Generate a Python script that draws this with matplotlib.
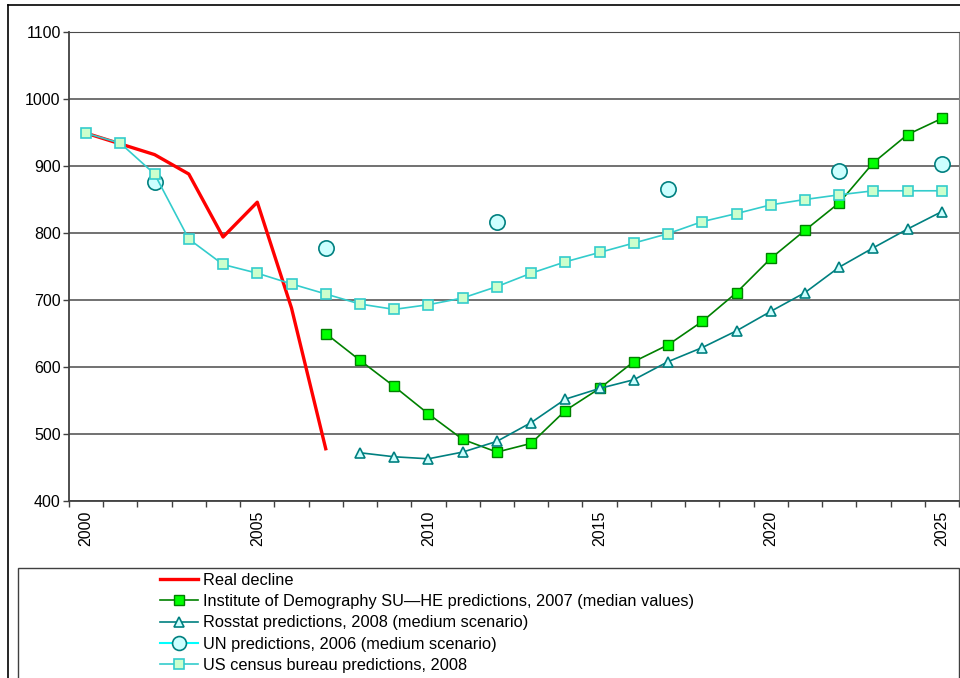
import matplotlib.pyplot as plt
import numpy as np
from matplotlib.lines import Line2D
from matplotlib.patches import Rectangle

plt.rcParams['font.family'] = ['Liberation Sans', 'DejaVu Sans']

# data
real_years = list(range(2000, 2008))
real_vals = [949, 933, 917, 888, 794, 846, 688, 478]

inst_years = list(range(2007, 2026))
inst_vals = [650, 610, 571, 530, 492, 473, 486, 535, 568, 608, 633, 668, 711,
             762, 804, 845, 905, 947, 971]

rosstat_years = list(range(2008, 2026))
rosstat_vals = [472, 466, 463, 473, 489, 517, 552, 568, 581, 608, 629, 654,
                683, 711, 749, 778, 806, 832]

un_years = [2002, 2007, 2012, 2017, 2022, 2025]
un_vals = [876, 778, 817, 866, 892, 903]

census_years = list(range(2000, 2026))
census_vals = [949, 934, 888, 791, 753, 740, 724, 709, 694, 686, 693, 703, 720,
               740, 757, 771, 785, 799, 817, 829, 842, 850, 857, 863, 863, 863]

labels = ["Real decline",
          "Institute of Demography SU\u2014HE predictions, 2007 (median values)",
          "Rosstat predictions, 2008 (medium scenario)",
          "UN predictions, 2006 (medium scenario)",
          "US census bureau predictions, 2008"]

W, H = 960, 678
fig = plt.figure(figsize=(W / 100, H / 100), dpi=100)
ax = fig.add_axes([69 / W, 1 - 501 / H, 890 / W, 469 / H])

h_real, = ax.plot(real_years, real_vals, color='#ff0000', lw=2.4, zorder=3)
h_inst, = ax.plot(inst_years, inst_vals, color='#008000', lw=1.2, marker='s',
                  ms=7, mfc='#00ff00', mec='#008000', mew=1.0, zorder=4)
h_ros, = ax.plot(rosstat_years, rosstat_vals, color='#008080', lw=1.2, marker='^',
                 ms=6.5, mfc='#ccffff', mec='#008080', mew=1.2, zorder=5)
ax.plot(un_years, un_vals, linestyle='none', marker='o', ms=11,
        mfc='#ccffff', mec='#008080', mew=1.2, zorder=6)
h_cen, = ax.plot(census_years, census_vals, color='#33cccc', lw=1.2, marker='s',
                 ms=7, mfc='#ccffcc', mec='#33cccc', mew=1.2, zorder=7)
# the UN series shows a cyan line in the legend only
h_un = Line2D([], [], color='#00ffff', lw=1.5, marker='o', ms=10,
              mfc='#ccffff', mec='#008080', mew=1.2)

ax.set_xlim(1999.5, 2025.5)
ax.set_ylim(400, 1100)
ax.set_yticks(range(400, 1101, 100))
ax.set_xticks(range(2000, 2026, 5))
ax.set_xticks(np.arange(1999.5, 2026, 1), minor=True)
ax.tick_params(axis='x', which='major', length=0, pad=7, labelrotation=90, labelsize=11.5)
ax.tick_params(axis='x', which='minor', length=4, width=1, color='#404040', direction='out')
ax.tick_params(axis='y', length=4, width=1, color='#404040', labelsize=11.5, pad=2)

ax.yaxis.grid(True, color='#4a4a4a', lw=1.1)
ax.set_axisbelow(True)
for side in ['left', 'bottom']:
    ax.spines[side].set_color('#404040')
    ax.spines[side].set_linewidth(1.3)
ax.spines['top'].set_color('#4a4a4a')
ax.spines['right'].set_color('#808080')

# outer chart border
fig.add_artist(Line2D([8 / W, 8 / W], [0, 1 - 5 / H], transform=fig.transFigure,
                      color='black', lw=1.2))
fig.add_artist(Line2D([8 / W, 1], [1 - 5 / H, 1 - 5 / H], transform=fig.transFigure,
                      color='black', lw=1.2))

# legend box
fig.add_artist(Rectangle((18 / W, -0.02), (959 - 18) / W, 0.02 + 1 - 568 / H,
                         transform=fig.transFigure, fill=False,
                         edgecolor='#404040', lw=1.0))

fig.legend([h_real, h_inst, h_ros, h_un, h_cen], labels, loc='upper left',
           bbox_to_anchor=(160 / W, 1 - 573 / H), frameon=False, fontsize=11.8,
           borderpad=0, borderaxespad=0, handlelength=2.3, handletextpad=0.35,
           labelspacing=0.38)

fig.savefig('out.png', dpi=100)
